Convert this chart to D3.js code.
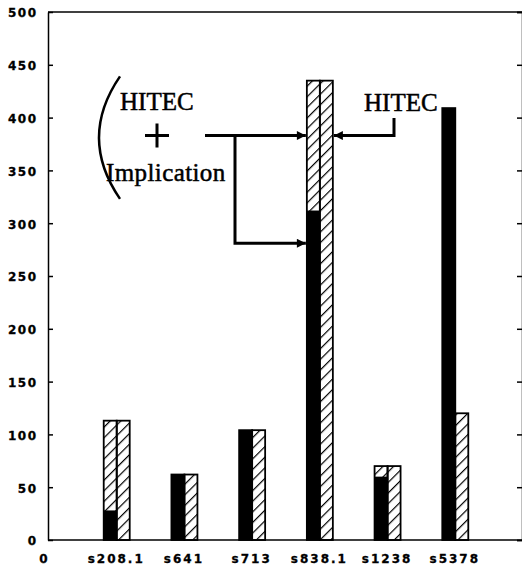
<!DOCTYPE html>
<html>
<head>
<meta charset="utf-8">
<script src="https://cdn.jsdelivr.net/npm/d3@7"></script>
<style>
  body { margin: 0; background: #fff; }
  .axisLines path, .axisLines line { stroke: #000; stroke-width: 1.5px; }
  .axisLines text { font-family: "DejaVu Sans", sans-serif; font-weight: bold; font-size: 12px; fill: #000; stroke: #000; stroke-width: 0.3px; }
  .yAxis text { letter-spacing: 1.5px; }
  .xAxis text { letter-spacing: 2px; }
  .note { font-family: "Liberation Serif", "Times New Roman", serif; font-size: 25px; fill: #000; stroke: #000; stroke-width: 0.5px; }
</style>
</head>
<body>
<div id="chart"></div>
<script>

// chart values
var categories = ["s208.1", "s641", "s713", "s838.1", "s1238", "s5378"];
var combinedSolid = [28, 62, 104, 312, 60, 409];   // black part, HITEC + Implication
var combinedTotal = [113, 62, 104, 435, 70, 409];  // full height of the left bar
var hitecOnly = [113, 62, 104, 435, 70, 120];      // right (hatched) bar
var yTicks = [0, 50, 100, 150, 200, 250, 300, 350, 400, 450, 500];

var width = 522, height = 567;

var svg = d3.select("#chart").append("svg")
    .attr("width", width)
    .attr("height", height);

// scales: slot 0 is the origin, categories sit on 1..6
var x = d3.scaleLinear().domain([0, 7]).range([48, 522]);
var y = d3.scaleLinear().domain([0, 500]).range([540, 12]);
var half = 13;

// hatch pattern
var defs = svg.append("defs");
defs.append("pattern")
    .attr("id", "hatch")
    .attr("patternUnits", "userSpaceOnUse")
    .attr("width", 7.5)
    .attr("height", 7.5)
    .attr("patternTransform", "rotate(45)")
    .append("line")
    .attr("x1", 0).attr("y1", 0)
    .attr("x2", 0).attr("y2", 7.5)
    .style("stroke", "#000")
    .style("stroke-width", 2.4);

defs.append("marker")
    .attr("id", "arrow")
    .attr("markerUnits", "userSpaceOnUse")
    .attr("viewBox", "0 0 10 10")
    .attr("refX", 10).attr("refY", 5)
    .attr("markerWidth", 11).attr("markerHeight", 9)
    .attr("orient", "auto")
    .append("path")
    .attr("d", "M0,0L10,5L0,10Z")
    .style("fill", "#000");

// frame: top line and right axis
svg.append("line")
    .attr("x1", x(0)).attr("x2", x(7))
    .attr("y1", y(500)).attr("y2", y(500))
    .style("stroke", "#000").style("stroke-width", 1.5);

svg.append("g")
    .attr("class", "axisLines")
    .attr("transform", "translate(" + x(7) + ",0)")
    .call(d3.axisRight(y).tickValues(yTicks).tickSize(-5).tickFormat(""));

// left axis
svg.append("g")
    .attr("class", "axisLines yAxis")
    .attr("transform", "translate(" + x(0) + ",0)")
    .call(d3.axisLeft(y).tickValues(yTicks).tickSizeInner(-5).tickSizeOuter(0).tickPadding(10.5))
    .selectAll("text").attr("dy", "0.4em");

// bottom axis
svg.append("g")
    .attr("class", "axisLines xAxis")
    .attr("transform", "translate(0," + y(0) + ")")
    .call(d3.axisBottom(x)
        .tickValues([0, 1, 2, 3, 4, 5, 6])
        .tickSize(0)
        .tickPadding(14)
        .tickFormat(function(d) { return d === 0 ? "0" : categories[d - 1]; }))
    .call(function(g) {
        g.select(".domain").attr("d", "M" + x(0) + ",0H" + x(7));
        g.selectAll(".tick").filter(function(d) { return d === 0; })
            .select("text").attr("dx", -4);
    });

var center = function(i) { return x(i + 1) + 1; };

var bars = svg.append("g").selectAll("g.pair")
    .data(categories)
    .enter()
    .append("g")
    .attr("class", "pair");

// left bar: hatched up to total
bars.append("rect")
    .attr("x", function(d, i) { return center(i) - half; })
    .attr("y", function(d, i) { return y(combinedTotal[i]); })
    .attr("width", half)
    .attr("height", function(d, i) { return y(0) - y(combinedTotal[i]); })
    .style("fill", "url(#hatch)");

// left bar: solid part
bars.append("rect")
    .attr("x", function(d, i) { return center(i) - half; })
    .attr("y", function(d, i) { return y(combinedSolid[i]); })
    .attr("width", half)
    .attr("height", function(d, i) { return y(0) - y(combinedSolid[i]); })
    .style("fill", "#000");

bars.append("rect")
    .attr("x", function(d, i) { return center(i) - half; })
    .attr("y", function(d, i) { return y(combinedTotal[i]); })
    .attr("width", half)
    .attr("height", function(d, i) { return y(0) - y(combinedTotal[i]); })
    .style("fill", "none")
    .style("stroke", "#000")
    .style("stroke-width", 1.8);

// right bar
bars.append("rect")
    .attr("x", function(d, i) { return center(i); })
    .attr("y", function(d, i) { return y(hitecOnly[i]); })
    .attr("width", half)
    .attr("height", function(d, i) { return y(0) - y(hitecOnly[i]); })
    .style("fill", "url(#hatch)")
    .style("stroke", "#000")
    .style("stroke-width", 1.8);

// annotations
var note = svg.append("g");
var tipLeft = center(3) - half - 1;
var tipRight = center(3) + half + 1;
var yUpper = y(383), yLower = y(281);

note.append("path")
    .attr("d", "M120," + y(439) + "Q78," + y(381) + " 120," + y(323))
    .style("fill", "none").style("stroke", "#000").style("stroke-width", 2.5);

note.append("text").attr("class", "note")
    .attr("x", 120).attr("y", 110).text("HITEC");

note.append("text").attr("class", "note")
    .attr("x", 106).attr("y", 181)
    .style("letter-spacing", "0.4px")
    .text("Implication");

note.append("path")
    .attr("d", "M145," + yUpper + "H169M157," + (yUpper - 12) + "V" + (yUpper + 12))
    .style("stroke", "#000").style("stroke-width", 3);

note.append("path")
    .attr("d", "M205," + yUpper + "H" + tipLeft)
    .attr("marker-end", "url(#arrow)")
    .style("fill", "none").style("stroke", "#000").style("stroke-width", 3);

note.append("path")
    .attr("d", "M235," + yUpper + "V" + yLower + "H" + tipLeft)
    .attr("marker-end", "url(#arrow)")
    .style("fill", "none").style("stroke", "#000").style("stroke-width", 3);

note.append("text").attr("class", "note")
    .attr("x", 364).attr("y", 111).text("HITEC");

note.append("path")
    .attr("d", "M394,118V" + yUpper + "H" + tipRight)
    .attr("marker-end", "url(#arrow)")
    .style("fill", "none").style("stroke", "#000").style("stroke-width", 3);

</script>
</body>
</html>
